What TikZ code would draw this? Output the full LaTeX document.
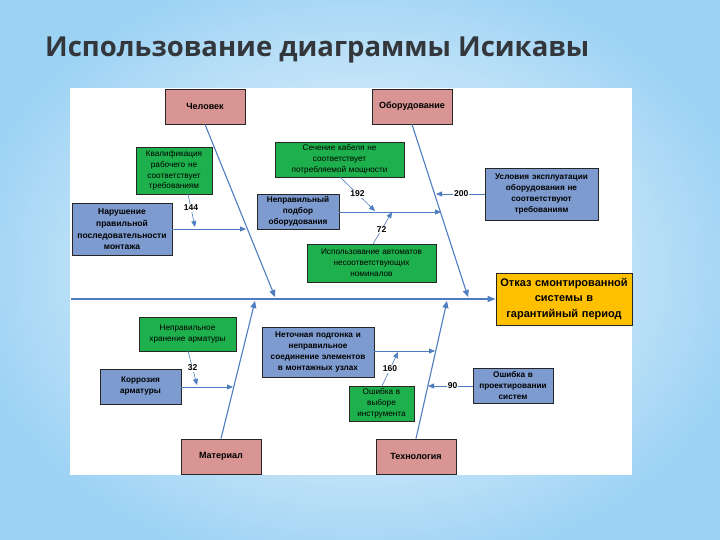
\documentclass[tikz,border=0pt]{standalone}
\usepackage{fontspec}
\setmainfont{Liberation Sans}
\newfontfamily\titlefont{Open Sans}
\usetikzlibrary{arrows.meta}
\definecolor{bgblue}{HTML}{9CD2F4}
\definecolor{pinkbox}{HTML}{D99594}
\definecolor{greenbox}{HTML}{1EB04C}
\definecolor{bluebox}{HTML}{7D9BCF}
\definecolor{linecol}{HTML}{4F7DC0}
\definecolor{effbox}{HTML}{FFC000}
\definecolor{titlecol}{HTML}{33363B}
\tikzset{
  box/.style={draw=black!85, line width=0.8pt, align=center, inner sep=1pt},
  catbox/.style={box, fill=pinkbox, font=\bfseries\fontsize{9}{10}\selectfont},
  greenb/.style={box, fill=greenbox, font=\fontsize{8.2}{10.8}\selectfont},
  blueb/.style={box, fill=bluebox, font=\bfseries\fontsize{8.2}{11}\selectfont},
  bone/.style={draw=linecol, line width=1.1pt, -{Triangle[length=7pt,width=6pt]}},
  sub/.style={draw=linecol, line width=0.9pt, -{Triangle[length=6pt,width=5pt]}},
  num/.style={fill=white, inner sep=0.8pt, font=\bfseries\fontsize{8.5}{9}\selectfont},
}
\newcommand{\bx}[8]{% name, style, x1,y1,x2,y2, text width, text
  \node[#2, minimum width=#5pt-#3pt, minimum height=#6pt-#4pt, text width=#7pt]
    (#1) at ({(#3+#5)/2},{(#4+#6)/2}) {#8};}
\begin{document}
\begin{tikzpicture}[x=1pt,y=-1pt]
\useasboundingbox (0,0) rectangle (720,540);
\shade[inner color=white, outer color=bgblue] (-40,-40) rectangle (760,580);
\fill[white] (70,88) rectangle (632,475);
\node[anchor=base west, text=titlecol, font=\titlefont\bfseries\fontsize{27.5}{32}\selectfont, inner sep=0pt] (title) at (45,57) {Использование диаграммы Исикавы};

% boxes
\bx{chel}{catbox}{165}{89}{245}{124}{78}{Человек}
\bx{obor}{catbox}{372}{89}{452}{124}{78}{Оборудование}
\bx{mat}{catbox}{181}{439}{261}{474}{78}{Материал}
\bx{tech}{catbox}{376}{439}{456}{474}{78}{Технология}
\bx{eff}{box, fill=effbox, font=\bfseries\fontsize{11}{15.5}\selectfont}{496}{273}{632}{325}{134}{Отказ смонтированной\\системы в\\гарантийный период}

\bx{kval}{greenb}{136}{147}{212}{194}{74}{Квалификация\\рабочего не\\соответствует\\требованиям}
\bx{nar}{blueb}{72}{203}{172}{255}{98}{\fontsize{8.5}{12}\selectfont Нарушение\\правильной\\последовательности\\монтажа}
\bx{sech}{greenb}{275}{142}{404}{177}{127}{Сечение кабеля не\\соответствует\\потребляемой мощности}
\bx{podb}{blueb}{257}{194}{339}{229}{80}{Неправильный\\подбор\\оборудования}
\bx{isp}{greenb}{307}{244}{436}{282}{127}{Использование автоматов\\несоответствующих\\номиналов}
\bx{usl}{blueb}{485}{168}{598}{220}{111}{Условия эксплуатации\\оборудования не\\соответствуют\\требованиям}

\bx{hran}{greenb}{139}{317}{236}{351}{95}{Неправильное\\хранение арматуры}
\bx{korr}{blueb}{100}{369}{181}{404}{79}{Коррозия\\арматуры}
\bx{neto}{blueb}{262}{327}{374}{377}{110}{Неточная подгонка и\\неправильное\\соединение элементов\\в монтажных узлах}
\bx{vyb}{greenb}{349}{386}{414}{421}{63}{Ошибка в\\выборе\\инструмента}
\bx{proj}{blueb}{473}{368}{553}{403}{78}{Ошибка в\\проектировании\\систем}

% spine
\coordinate (spineStart) at (71,299);
\draw[draw=linecol, line width=1.4pt, -{Triangle[length=8pt,width=6pt]}] (spineStart) -- (eff.west);

% bones
\coordinate (chelEnd) at (275,297);
\coordinate (oborEnd) at (468,297);
\coordinate (matEnd) at (255,301);
\coordinate (techEnd) at (447,301);
\draw[bone] (chel.south) -- (chelEnd);
\draw[bone] (obor.south) -- (oborEnd);
\draw[bone] (mat.north) -- (matEnd);
\draw[bone] (tech.north) -- (techEnd);

% sub causes
\coordinate (narEnd) at (246,229);
\draw[sub] (nar.east |- narEnd) -- (narEnd);
\coordinate (kvalS) at (188,194);
\coordinate (kvalEnd) at (195,227);
\draw[sub, line width=0.6pt] (kvalS) -- node[num, pos=0.42] (n144) {144} (kvalEnd);

\coordinate (podbEnd) at (441,212);
\draw[sub] (podb.east |- podbEnd) -- (podbEnd);
\coordinate (sechS) at (340,177);
\coordinate (sechEnd) at (375,211);
\draw[sub, line width=0.6pt] (sechS) -- node[num, pos=0.5] (n192) {192} (sechEnd);
\coordinate (ispS) at (373,244);
\coordinate (ispEnd) at (392,212);
\draw[sub, line width=0.6pt] (ispS) -- node[num, pos=0.45] (n72) {72} (ispEnd);
\coordinate (uslEnd) at (436,194);
\draw[sub] (usl.west |- uslEnd) -- node[num, pos=0.48] (n200) {200} (uslEnd);

\coordinate (korrEnd) at (233,387);
\draw[sub] (korr.east |- korrEnd) -- (korrEnd);
\coordinate (hranS) at (188,351);
\coordinate (hranEnd) at (197,385);
\draw[sub, line width=0.6pt] (hranS) -- node[num, pos=0.5] (n32) {32} (hranEnd);

\coordinate (netoEnd) at (435,351);
\draw[sub] (neto.east |- netoEnd) -- (netoEnd);
\coordinate (vybS) at (382,386);
\coordinate (vybEnd) at (398,352);
\draw[sub, line width=0.6pt] (vybS) -- node[num, pos=0.5] (n160) {160} (vybEnd);
\coordinate (projEnd) at (428,386);
\draw[sub] (proj.west |- projEnd) -- node[num, pos=0.45] (n90) {90} (projEnd);
\end{tikzpicture}
\end{document}
